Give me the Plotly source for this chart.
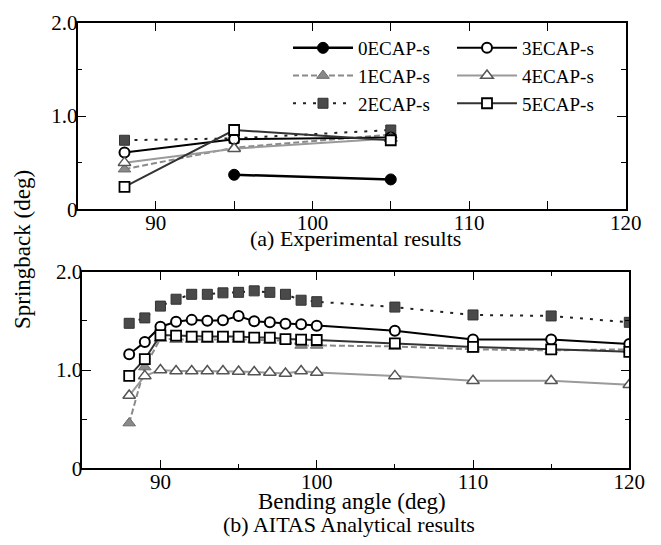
import plotly.graph_objects as go

# ---------------- data ----------------
series_names = ["0ECAP-s", "1ECAP-s", "2ECAP-s", "3ECAP-s", "4ECAP-s", "5ECAP-s"]

exp_angles = [88, 95, 105]
exp_0 = [None, 0.37, 0.32]
exp_1 = [0.43, 0.66, 0.80]
exp_2 = [0.74, 0.76, 0.85]
exp_3 = [0.61, 0.75, 0.77]
exp_4 = [0.50, 0.65, 0.76]
exp_5 = [0.24, 0.85, 0.74]

ana_angles = [88, 89, 90, 91, 92, 93, 94, 95, 96, 97, 98, 99, 100, 105, 110, 115, 120]
ana_1 = [0.46, 1.03, 1.32, 1.31, 1.31, 1.31, 1.31, 1.31, 1.31, 1.30, 1.30, 1.25, 1.25, 1.24, 1.21, 1.20, 1.21]
ana_2 = [1.475, 1.53, 1.65, 1.72, 1.77, 1.77, 1.785, 1.79, 1.805, 1.79, 1.77, 1.71, 1.695, 1.64, 1.56, 1.55, 1.485]
ana_3 = [1.16, 1.285, 1.44, 1.49, 1.51, 1.50, 1.505, 1.55, 1.495, 1.485, 1.47, 1.465, 1.45, 1.40, 1.31, 1.31, 1.265]
ana_4 = [0.74, 0.94, 1.00, 0.99, 0.99, 0.99, 0.99, 0.985, 0.98, 0.975, 0.965, 0.99, 0.975, 0.94, 0.89, 0.89, 0.85]
ana_5 = [0.94, 1.11, 1.355, 1.35, 1.34, 1.34, 1.34, 1.34, 1.33, 1.33, 1.315, 1.31, 1.305, 1.27, 1.235, 1.21, 1.185]

y_tickvals = [0, 1.0, 2.0]
y_ticktext = ["0", "1.0", "2.0"]
x_tickvals = [90, 100, 110, 120]
x_ticktext = ["90", "100", "110", "120"]

# ---------------- styles ----------------
W, H = 661, 545
OFF = 8  # page body margin offset
FONT = "Liberation Serif, Times New Roman, serif"

styles = [
    dict(line=dict(color="black", width=2.5, dash="solid"),
         marker=dict(symbol="circle", size=11, color="black", line=dict(color="black", width=1))),
    dict(line=dict(color="#8a8a8a", width=2, dash="6px,3px"),
         marker=dict(symbol="triangle-up", size=11, color="#8a8a8a", line=dict(color="#6a6a6a", width=1))),
    dict(line=dict(color="#222222", width=2, dash="3px,7px"),
         marker=dict(symbol="square", size=10, color="#4a4a4a", line=dict(color="#333333", width=1))),
    dict(line=dict(color="black", width=2, dash="solid"),
         marker=dict(symbol="circle", size=10, color="white", line=dict(color="black", width=2))),
    dict(line=dict(color="#9a9a9a", width=2, dash="solid"),
         marker=dict(symbol="triangle-up", size=11, color="white", line=dict(color="#555555", width=1.5))),
    dict(line=dict(color="#333333", width=2, dash="solid"),
         marker=dict(symbol="square", size=10, color="white", line=dict(color="black", width=1.8))),
]

fig = go.Figure()

exp_series = [exp_0, exp_1, exp_2, exp_3, exp_4, exp_5]
for i, ys in enumerate(exp_series):
    fig.add_trace(go.Scatter(
        x=exp_angles, y=ys, name=series_names[i], mode="lines+markers",
        line=styles[i]["line"], marker=styles[i]["marker"],
        xaxis="x", yaxis="y", legend="legend" if i < 3 else "legend2",
        connectgaps=False,
    ))

ana_series = [None, ana_1, ana_2, ana_3, ana_4, ana_5]
for i, ys in enumerate(ana_series):
    if ys is None:
        continue
    fig.add_trace(go.Scatter(
        x=ana_angles, y=ys, name=series_names[i], mode="lines+markers",
        line=styles[i]["line"], marker=styles[i]["marker"],
        xaxis="x2", yaxis="y2", showlegend=False,
    ))

def px_x(p):
    return (p - OFF) / W

def px_y(p):
    return 1 - (p - OFF) / H

axis_common = dict(
    automargin=False,
    showgrid=False, zeroline=False, showline=True, linecolor="black", linewidth=1.5,
    mirror="ticks", ticks="inside", ticklen=9, tickwidth=1.3, tickcolor="black",
    tickfont=dict(family=FONT, size=21, color="black"),
)

fig.update_layout(
    template="none",
    width=W, height=H,
    autosize=False,
    margin=dict(l=0, r=0, t=0, b=0, pad=0),
    paper_bgcolor="white", plot_bgcolor="white",
    font=dict(family=FONT, color="black"),
    xaxis=dict(axis_common, domain=[px_x(77.5), px_x(625.7)], range=[85, 120],
               tickvals=x_tickvals, ticktext=x_ticktext, anchor="y", ticklabelstandoff=-6,
               minor=dict(dtick=5, tick0=85, ticks="inside", ticklen=9, tickcolor="black", tickwidth=1.3)),
    yaxis=dict(axis_common, domain=[px_y(209.3), px_y(22.7)], range=[0, 2.0],
               tickvals=y_tickvals, ticktext=y_ticktext, anchor="x", ticklabelstandoff=-6,
               minor=dict(dtick=0.5, tick0=0, ticks="inside", ticklen=5, tickcolor="black", tickwidth=1.3)),
    xaxis2=dict(axis_common, domain=[px_x(82.3), px_x(629.3)], range=[85, 120],
                tickvals=x_tickvals, ticktext=x_ticktext, anchor="y2", ticklabelstandoff=-6,
                minor=dict(dtick=5, tick0=85, ticks="inside", ticklen=5, tickcolor="black", tickwidth=1.3)),
    yaxis2=dict(axis_common, domain=[px_y(468.3), px_y(271.7)], range=[0, 2.0],
                tickvals=y_tickvals, ticktext=y_ticktext, anchor="x2", ticklabelstandoff=-6,
                minor=dict(dtick=0.5, tick0=0, ticks="inside", ticklen=5, tickcolor="black", tickwidth=1.3)),
    legend=dict(x=px_x(288), y=px_y(29), xanchor="left", yanchor="top",
                bgcolor="rgba(0,0,0,0)", font=dict(family=FONT, size=19, color="black"),
                tracegroupgap=0, itemwidth=60),
    legend2=dict(x=px_x(452), y=px_y(29), xanchor="left", yanchor="top",
                 bgcolor="rgba(0,0,0,0)", font=dict(family=FONT, size=19, color="black"),
                 tracegroupgap=0, itemwidth=60),
    annotations=[
        dict(text="(a) Experimental results", x=px_x(355), y=px_y(238), xref="paper", yref="paper",
             showarrow=False, font=dict(family=FONT, size=22, color="black"), xanchor="center", yanchor="middle"),
        dict(text="Bending angle (deg)", x=px_x(352), y=px_y(501), xref="paper", yref="paper",
             showarrow=False, font=dict(family=FONT, size=23, color="black"), xanchor="center", yanchor="middle"),
        dict(text="(b) AITAS Analytical results", x=px_x(348.5), y=px_y(524), xref="paper", yref="paper",
             showarrow=False, font=dict(family=FONT, size=22, color="black"), xanchor="center", yanchor="middle"),
        dict(text="Springback (deg)", x=px_x(22), y=px_y(250), xref="paper", yref="paper", textangle=-90,
             showarrow=False, font=dict(family=FONT, size=23, color="black"), xanchor="center", yanchor="middle"),
    ],
)

fig.write_html("out.html")
